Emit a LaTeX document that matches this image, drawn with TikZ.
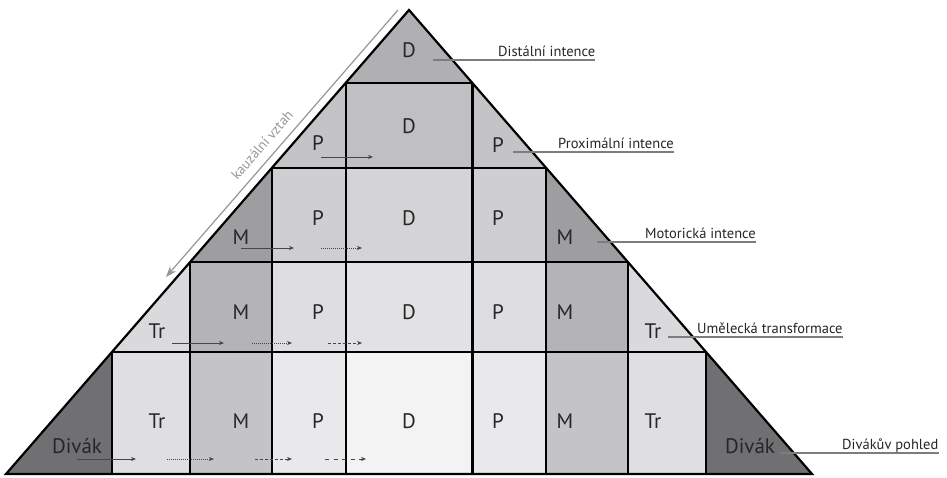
\documentclass[tikz,border=0pt]{standalone}
\usepackage{fontspec}
\setmainfont{PT Sans}
\usetikzlibrary{arrows.meta}
\definecolor{cA}{RGB}{176,176,178}
\definecolor{cB}{RGB}{192,192,194}
\definecolor{cBt}{RGB}{196,196,198}
\definecolor{cM3}{RGB}{158,158,161}
\definecolor{cP3}{RGB}{207,207,209}
\definecolor{cD3}{RGB}{212,212,214}
\definecolor{cT4}{RGB}{218,218,220}
\definecolor{cM4}{RGB}{180,180,182}
\definecolor{cP4}{RGB}{222,222,224}
\definecolor{cD4}{RGB}{226,226,228}
\definecolor{cV5}{RGB}{112,112,115}
\definecolor{cT5}{RGB}{223,223,225}
\definecolor{cM5}{RGB}{196,196,198}
\definecolor{cP5}{RGB}{233,233,235}
\definecolor{cD5}{RGB}{243,243,244}
\definecolor{ink}{RGB}{38,38,38}
\definecolor{arr}{RGB}{70,70,70}
\definecolor{ugray}{RGB}{125,125,125}
\definecolor{kgray}{RGB}{150,150,150}
\tikzset{
  grid/.style={line width=2.2pt, draw=black, line join=miter},
  letter/.style={font=\fontsize{21}{21}\selectfont, text=ink, inner sep=0pt},
  lbl/.style={font=\fontsize{14.5}{14.5}\selectfont, text=ink, inner sep=0pt, anchor=base west},
  uline/.style={draw=ugray, line width=1.3pt},
  sarr/.style={draw=arr, line width=0.7pt, -{Stealth[length=5pt,width=4pt]}},
  dotarr/.style={sarr, dash pattern=on 1.2pt off 0.8pt},
  dasharr/.style={sarr, dash pattern=on 3pt off 2pt},
  ldasharr/.style={sarr, dash pattern=on 4pt off 4.5pt},
}
\begin{document}
\begin{tikzpicture}[x=1pt,y=-1pt]
\useasboundingbox (0,0) rectangle (947,478);
% key points
\coordinate (A) at (409,10);
\coordinate (L1) at (345.6,83);  \coordinate (R1) at (472.4,83);
\coordinate (L2) at (271.8,168); \coordinate (R2) at (546.2,168);
\coordinate (L3) at (190.1,262); \coordinate (R3) at (627.9,262);
\coordinate (L4) at (112,352);   \coordinate (R4) at (706,352);
\coordinate (L5) at (6,474);     \coordinate (R5) at (812,474);
% row 1
\fill[cA] (A) -- (L1) -- (R1) -- cycle;
% row 2
\fill[cBt] (L1) -- (L2) -- (345.6,168) -- cycle;
\fill[cB] (345.6,83) rectangle (472.4,168);
\fill[cBt] (R1) -- (472.4,168) -- (R2) -- cycle;
% row 3
\fill[cM3] (L2) -- (L3) -- (271.8,262) -- cycle;
\fill[cP3] (271.8,168) rectangle (345.6,262);
\fill[cD3] (345.6,168) rectangle (472.4,262);
\fill[cP3] (472.4,168) rectangle (546.2,262);
\fill[cM3] (R2) -- (546.2,262) -- (R3) -- cycle;
% row 4
\fill[cT4] (L3) -- (L4) -- (190.1,352) -- cycle;
\fill[cM4] (190.1,262) rectangle (271.8,352);
\fill[cP4] (271.8,262) rectangle (345.6,352);
\fill[cD4] (345.6,262) rectangle (472.4,352);
\fill[cP4] (472.4,262) rectangle (546.2,352);
\fill[cM4] (546.2,262) rectangle (627.9,352);
\fill[cT4] (R3) -- (627.9,352) -- (R4) -- cycle;
% row 5
\fill[cV5] (L4) -- (L5) -- (112,474) -- cycle;
\fill[cT5] (112,352) rectangle (190.1,474);
\fill[cM5] (190.1,352) rectangle (271.8,474);
\fill[cP5] (271.8,352) rectangle (345.6,474);
\fill[cD5] (345.6,352) rectangle (472.4,474);
\fill[cP5] (472.4,352) rectangle (546.2,474);
\fill[cM5] (546.2,352) rectangle (627.9,474);
\fill[cT5] (627.9,352) rectangle (706,474);
\fill[cV5] (R4) -- (706,474) -- (R5) -- cycle;
% grid lines
\draw[grid] (A) -- (L5) -- (R5) -- cycle;
\draw[grid] (L1) -- (R1) (L2) -- (R2) (L3) -- (R3) (L4) -- (R4);
\draw[grid] (345.6,83) -- (345.6,474) (472.4,83) -- (472.4,474)
            (271.8,168) -- (271.8,474) (546.2,168) -- (546.2,474)
            (190.1,262) -- (190.1,474) (627.9,262) -- (627.9,474)
            (112,352) -- (112,474) (706,352) -- (706,474);
% letters
\node[letter] (d1) at (409,50) {D};
\node[letter] (p2l) at (318,143) {P};
\node[letter] (d2) at (409,126) {D};
\node[letter] (p2r) at (498,145) {P};
\node[letter] (m3l) at (241,237) {M};
\node[letter] (p3l) at (318,218) {P};
\node[letter] (d3) at (409,218) {D};
\node[letter] (p3r) at (498,218) {P};
\node[letter] (m3r) at (565,237) {M};
\node[letter] (t4l) at (157,331) {Tr};
\node[letter] (m4l) at (241,312) {M};
\node[letter] (p4l) at (318,312) {P};
\node[letter] (d4) at (409,312) {D};
\node[letter] (p4r) at (498,312) {P};
\node[letter] (m4r) at (565,312) {M};
\node[letter] (t4r) at (653,331) {Tr};
\node[letter] (v5l) at (77,446) {Divák};
\node[letter] (t5l) at (157,421) {Tr};
\node[letter] (m5l) at (241,421) {M};
\node[letter] (p5l) at (318,421) {P};
\node[letter] (d5) at (409,421) {D};
\node[letter] (p5r) at (498,421) {P};
\node[letter] (m5r) at (565,421) {M};
\node[letter] (t5r) at (653,421) {Tr};
\node[letter] (v5r) at (750,446) {Divák};
% small arrows
\coordinate (a21) at (321,157); \coordinate (a22) at (373,157);
\draw[sarr] (a21) -- (a22);
\coordinate (a31) at (241,248); \coordinate (a32) at (294,248);
\coordinate (a33) at (321,248); \coordinate (a34) at (362,248);
\draw[sarr] (a31) -- (a32);
\draw[dotarr] (a33) -- (a34);
\coordinate (a41) at (172,343); \coordinate (a42) at (224,343);
\coordinate (a43) at (252,343); \coordinate (a44) at (292,343);
\coordinate (a45) at (328,343); \coordinate (a46) at (362,343);
\draw[sarr] (a41) -- (a42);
\draw[dotarr] (a43) -- (a44);
\draw[dasharr] (a45) -- (a46);
\coordinate (a51) at (77,459);  \coordinate (a52) at (136,459);
\coordinate (a53) at (167,459); \coordinate (a54) at (214,459);
\coordinate (a55) at (255,459); \coordinate (a56) at (292,459);
\coordinate (a57) at (325,459); \coordinate (a58) at (366,459);
\draw[sarr] (a51) -- (a52);
\draw[dotarr] (a53) -- (a54);
\draw[dasharr] (a55) -- (a56);
\draw[ldasharr] (a57) -- (a58);
% causal arrow
\coordinate (k1) at (398,10); \coordinate (k2) at (166,277);
\draw[draw=kgray, line width=1.2pt, -{Stealth[length=11pt,width=8pt]}] (k1) -- (k2);
\node[font=\fontsize{14}{14}\selectfont, text=kgray, rotate=49, inner sep=0pt] (kt) at (262,145) {kauzální vztah};
% right labels
\node[lbl] (l1) at (498,56.5) {Distální intence};
\coordinate (u1) at (433,60);
\draw[uline] (u1) -- (u1 -| l1.east);
\node[lbl] (l2) at (558,148.5) {Proximální intence};
\coordinate (u2) at (513,152);
\draw[uline] (u2) -- (u2 -| l2.east);
\node[lbl] (l3) at (645,238.5) {Motorická intence};
\coordinate (u3) at (597,242);
\draw[uline] (u3) -- (u3 -| l3.east);
\node[lbl] (l4) at (697,333.5) {Umělecká transformace};
\coordinate (u4) at (668,337);
\draw[uline] (u4) -- (u4 -| l4.east);
\node[lbl] (l5) at (842,449.5) {Divákův pohled};
\coordinate (u5) at (780,453);
\draw[uline] (u5) -- (u5 -| l5.east);
\end{tikzpicture}
\end{document}
